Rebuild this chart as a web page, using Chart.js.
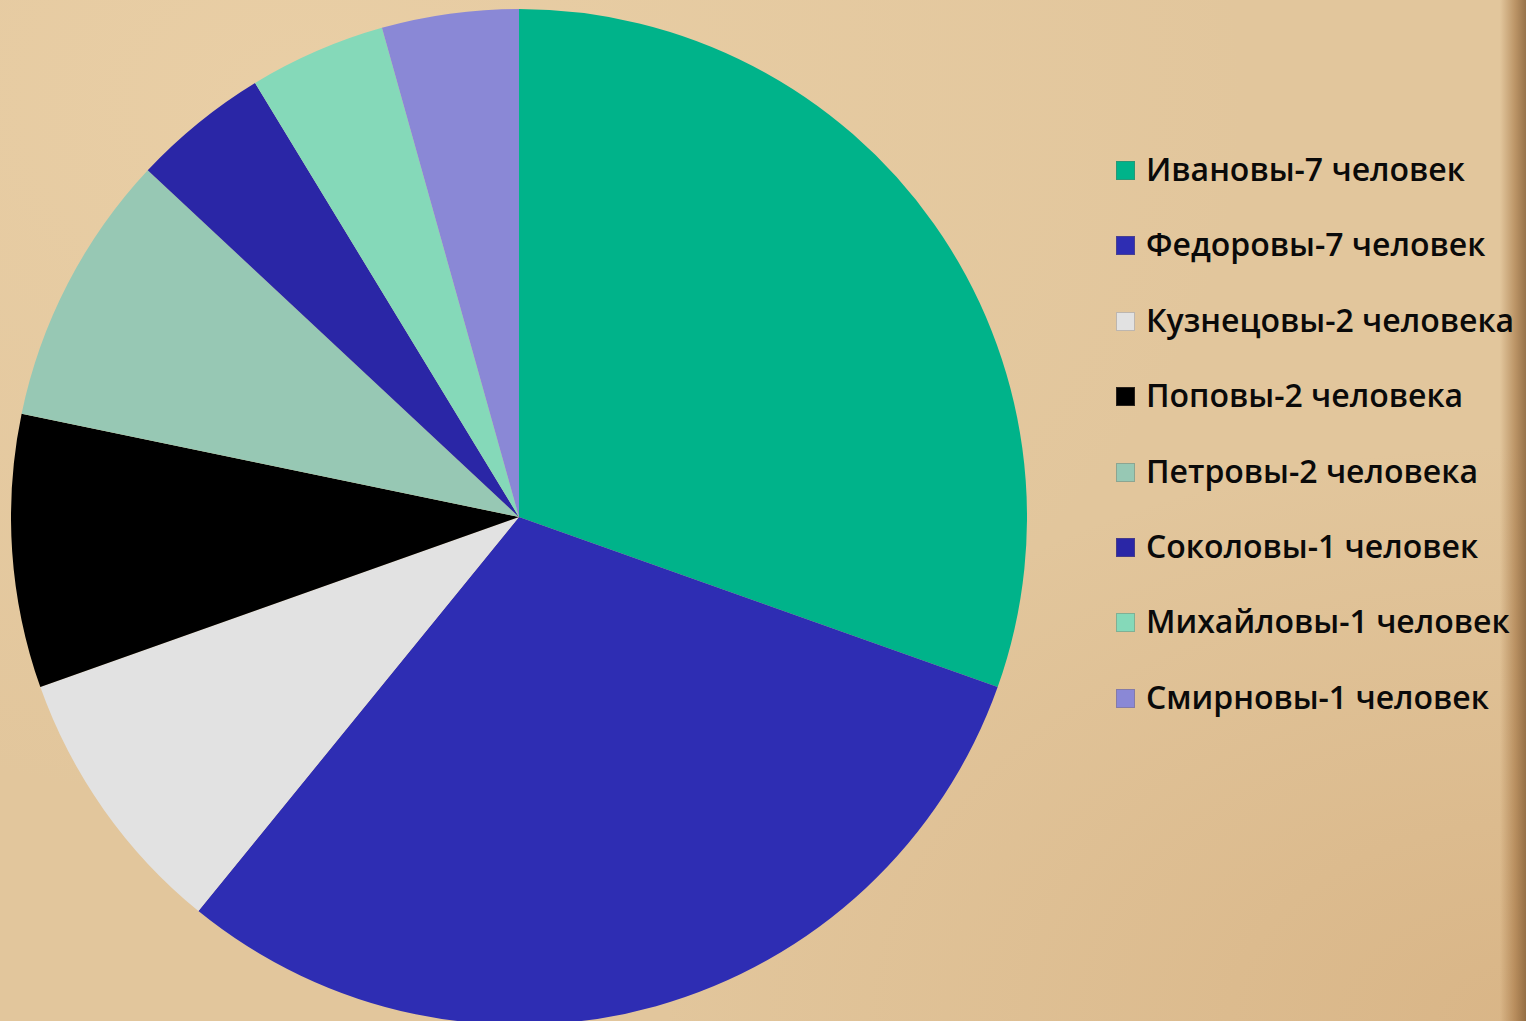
<!DOCTYPE html>
<html lang="ru">
<head>
<meta charset="utf-8">
<title>Семьи</title>
<script src="https://cdn.jsdelivr.net/npm/chart.js@4.4.1/dist/chart.umd.min.js"></script>
<style>
  html, body { margin: 0; padding: 0; }
  body {
    width: 1526px; height: 1021px; overflow: hidden; position: relative;
    background:
      linear-gradient(90deg, rgba(0,0,0,0) 0, rgba(0,0,0,0) 1500px, rgba(150,100,50,.5) 1515px, rgba(120,80,40,.7) 1526px),
      radial-gradient(ellipse at 20% 10%, rgba(240,215,175,.5), rgba(240,215,175,0) 55%),
      radial-gradient(ellipse at 100% 100%, rgba(200,150,95,.35), rgba(200,150,95,0) 40%),
      #e2c69c;
    font-family: "Open Sans", sans-serif;
  }
  #pieBox { position: absolute; left: 11px; top: 9px; width: 1016px; height: 1016px; }
  #legend { position: absolute; left: 1116px; top: 151px; margin: 0; padding: 0; list-style: none; }
  #legend li { height: 75.4px; display: flex; align-items: flex-start; white-space: nowrap; }
  #legend .box { width: 19px; height: 19px; margin-top: 10px; margin-right: 11px; box-sizing: border-box; border: 1px solid rgba(120,100,80,.35); }
  #legend .txt { font-size: 32px; font-weight: 600; color: #0a0a0a; line-height: 38px; margin-top: -1px; }
</style>
</head>
<body>
<div id="pieBox"><canvas id="pieChart"></canvas></div>
<ul id="legend"></ul>
<script>
// families and how many people in each
const families = ["Ивановы", "Федоровы", "Кузнецовы", "Поповы", "Петровы", "Соколовы", "Михайловы", "Смирновы"];
const people = [7, 7, 2, 2, 2, 1, 1, 1];
const legendLabels = [
  "Ивановы-7 человек",
  "Федоровы-7 человек",
  "Кузнецовы-2 человека",
  "Поповы-2 человека",
  "Петровы-2 человека",
  "Соколовы-1 человек",
  "Михайловы-1 человек",
  "Смирновы-1 человек"
];
const sliceColors = ["#00b38a", "#2e2db3", "#e2e2e2", "#000000", "#97c8b4", "#2a26a6", "#85d9b9", "#8a88d6"];

document.addEventListener("DOMContentLoaded", () => {
  const ctx = document.getElementById("pieChart");
  const chart = new Chart(ctx, {
    type: "pie",
    data: {
      labels: legendLabels,
      datasets: [{
        label: "Люди",
        data: people,
        backgroundColor: sliceColors,
        borderWidth: 0
      }]
    },
    options: {
      responsive: true,
      maintainAspectRatio: false,
      animation: false,
      layout: { padding: 0 },
      plugins: {
        legend: { display: false },
        tooltip: { enabled: false }
      }
    }
  });

  const legend = document.getElementById("legend");
  legend.innerHTML = chart.data.labels.map((label, index) => `
    <li><span class="box" style="background:${chart.data.datasets[0].backgroundColor[index]}"></span><span class="txt">${label}</span></li>
  `).join("");
});
</script>
</body>
</html>
